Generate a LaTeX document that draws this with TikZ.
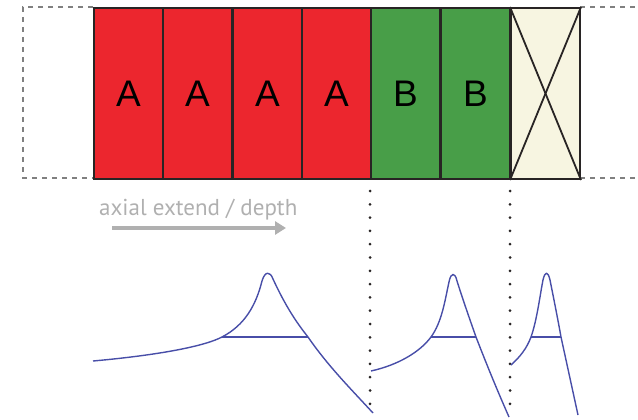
\documentclass[tikz,border=0pt]{standalone}
\usepackage{fontspec}
\setmainfont{Liberation Sans}
\newfontfamily\labelfont{PT Sans}
\usetikzlibrary{arrows.meta}
\definecolor{cellred}{RGB}{236,38,46}
\definecolor{cellgreen}{RGB}{72,158,72}
\definecolor{cellcream}{RGB}{247,245,225}
\definecolor{edge}{RGB}{40,36,36}
\definecolor{curveblue}{RGB}{72,78,168}
\definecolor{hintgray}{RGB}{176,176,176}
\definecolor{dashgray}{RGB}{128,128,128}
\tikzset{
  cell/.style={draw=edge, line width=2pt, minimum width=69pt, minimum height=171pt,
    anchor=north west, inner sep=0pt, font=\fontsize{37}{37}\selectfont},
  redcell/.style={cell, fill=cellred},
  greencell/.style={cell, fill=cellgreen},
  emptycell/.style={cell, fill=cellcream},
  outline/.style={draw=dashgray, line width=2pt, dash pattern=on 5pt off 5pt},
  divider/.style={draw=edge, line width=3pt, line cap=round, dash pattern=on 0pt off 13.3pt},
  profile/.style={draw=curveblue, line width=1.4pt, line join=round},
  halfmax/.style={draw=curveblue, line width=1.2pt},
  hint/.style={text=hintgray, font=\labelfont\fontsize{23}{23}\selectfont, anchor=base west, inner sep=0pt},
}
\begin{document}
\begin{tikzpicture}[x=1pt,y=-1pt]
\useasboundingbox (0,0) rectangle (638,420);

% dashed extension of the stack on both sides
\draw[outline] (93,7) -- (23,7) -- (23,178) -- (93,178);
\draw[outline] (580,7) -- (640,7);
\draw[outline] (580,178) -- (640,178);

% the stack of cells
\node[redcell]   (a1) at (93,7)  {A};
\node[redcell]   (a2) at (162,7) {A};
\node[redcell]   (a3) at (232,7) {A};
\node[redcell]   (a4) at (301,7) {A};
\node[greencell] (b1) at (370,7) {B};
\node[greencell] (b2) at (440,7) {B};
\node[emptycell] (x1) at (510,7) {};
\draw[edge, line width=1.8pt] (x1.north west) -- (x1.south east);
\draw[edge, line width=1.8pt] (x1.south west) -- (x1.north east);

% dotted boundaries below the stack
\coordinate (d1) at (370,417);
\coordinate (d2) at (510,417);
\draw[divider] (b1.south west) ++(0,11) -- (d1);
\draw[divider] (x1.south west) ++(0,11) -- (d2);

% depth direction
\node[hint] (lbl) at (99,215) {axial extend / depth};
\coordinate (ar0) at (112,228);
\coordinate (ar1) at (286,228);
\draw[hintgray, line width=4.5pt, -{Triangle[length=11pt,width=13pt]}] (ar0) -- (ar1);

% profile under the A cells
\coordinate (p1l) at (222,337);
\coordinate (p1r) at (308,337);
\draw[profile] (93,361) .. controls (160,355) and (205,346) .. (p1l)
  .. controls (245,325) and (256,305) .. (262,281)
  .. controls (265,271) and (270,271) .. (273,279)
  .. controls (285,305) and (296,322) .. (p1r)
  .. controls (328,366) and (350,388) .. (373,413);
\draw[halfmax] (p1l) -- (p1r);

% profile under the B cells
\coordinate (p2l) at (431,337);
\coordinate (p2r) at (476,337);
\draw[profile] (371,371) .. controls (398,365) and (420,352) .. (p2l)
  .. controls (442,322) and (445,300) .. (449,282)
  .. controls (451,272) and (455,272) .. (457,281)
  .. controls (463,300) and (470,320) .. (p2r)
  .. controls (488,368) and (498,392) .. (509,417);
\draw[halfmax] (p2l) -- (p2r);

% profile under the empty cell
\coordinate (p3l) at (531,337);
\coordinate (p3r) at (561,337);
\draw[profile] (511,365) .. controls (520,357) and (527,348) .. (p3l)
  .. controls (537,320) and (540,295) .. (543,280)
  .. controls (545,271) and (548,271) .. (550,280)
  .. controls (554,300) and (558,320) .. (p3r)
  -- (578,415);
\draw[halfmax] (p3l) -- (p3r);
\end{tikzpicture}
\end{document}
